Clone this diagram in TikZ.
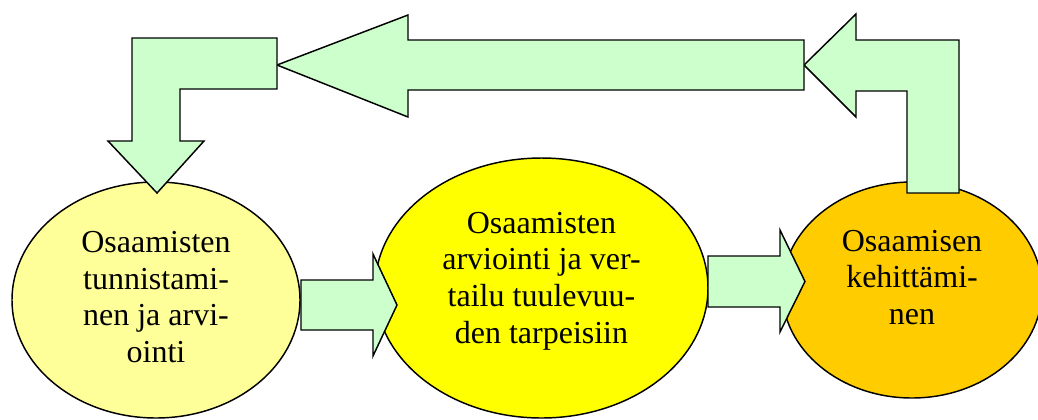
\documentclass[tikz,border=0pt]{standalone}
\usepackage{fontspec}
\setmainfont{Liberation Serif}
\usepackage{tikz}
\definecolor{nuolivihrea}{HTML}{CCFFCC}
\definecolor{vaaleakeltainen}{HTML}{FFFF99}
\definecolor{keltainen}{HTML}{FFFF00}
\definecolor{oranssi}{HTML}{FFCC00}
\tikzset{
	reuna/.style={draw=black, line width=1.1pt, line join=miter},
	nuoli/.style={reuna, fill=nuolivihrea},
	teksti/.style={align=center, inner sep=0pt, font=\fontsize{24}{27.5}\selectfont}
}

\begin{document}
\begin{tikzpicture}[x=0.75pt, y=-0.75pt]
			%%%%% START %%%%%
			\clip (0, 0) rectangle (1038, 419);
			
			\draw[reuna, fill=vaaleakeltainen] (156, 300) ellipse (144 and 118);
			\draw[reuna, fill=keltainen] (541.5, 288) ellipse (166.5 and 130);
			
			\draw[nuoli] (301, 280) -- (373, 280) -- (373, 254) -- (397, 305) -- (373, 356) -- (373, 330) -- (301, 330) -- cycle;
			
			\draw[reuna, fill=oranssi] (912, 290) ellipse (130 and 108);
			
			\draw[nuoli] (708, 256) -- (780, 256) -- (780, 230) -- (805, 281.5) -- (780, 332) -- (780, 307) -- (708, 307) -- cycle;
			
			% ylempi paluunuoli
			\draw[nuoli] (959, 193) -- (959, 40) -- (856, 40) -- (856, 14) -- (804, 65) -- (856, 117) -- (856, 91) -- (907, 91) -- (907, 193) -- cycle;
			\draw[nuoli] (804, 40) -- (408, 40) -- (408, 15) -- (277, 65) -- (408, 117) -- (408, 90) -- (804, 90) -- cycle;
			\draw[nuoli] (277, 38) -- (132, 38) -- (132, 141) -- (108, 141) -- (157, 193) -- (204, 141) -- (180, 141) -- (180, 89) -- (277, 89) -- cycle;
			
			\node[teksti] (tunnistus) at (156, 297) {Osaamisten\\tunnistami-\\nen ja arvi-\\ointi};
			\node[teksti] (vertailu) at (541.5, 281) {Osaamisten\\arviointi ja ver-\\tailu tuulevuu-\\den tarpeisiin};
			\node[teksti] (kehitys) at (912, 277.5) {Osaamisen\\kehittämi-\\nen};
			
			%%%%% END %%%%%
\end{tikzpicture}
\end{document}
